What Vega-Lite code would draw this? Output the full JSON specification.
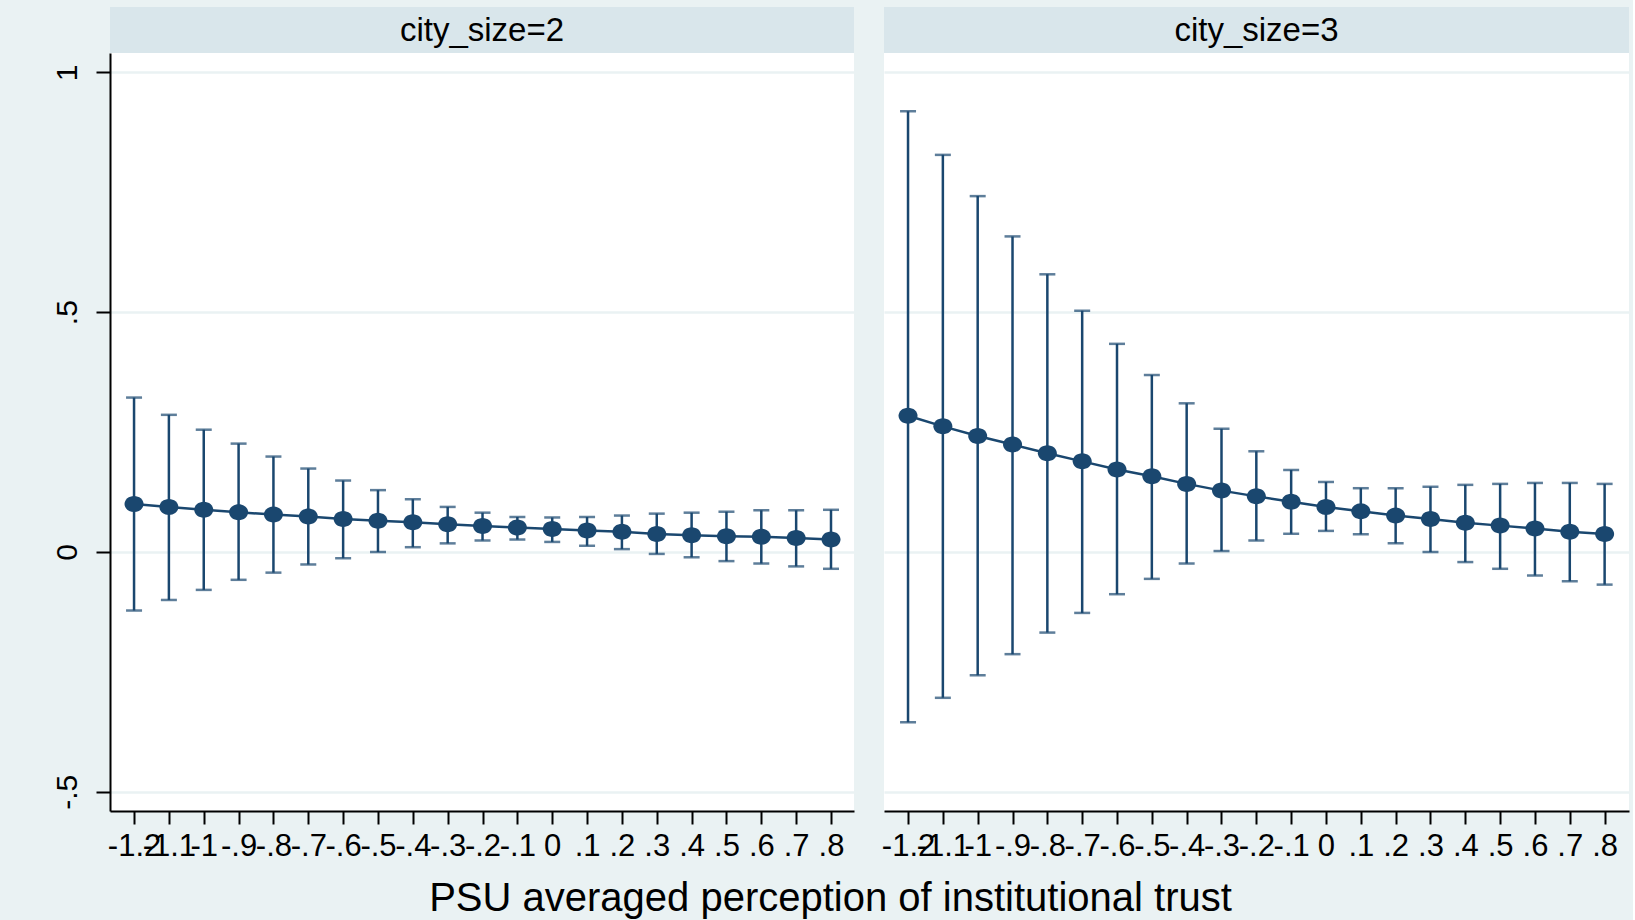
{
  "$schema": "https://vega.github.io/schema/vega-lite/v6.json",
  "background": "#eaf2f3",
  "padding": {"left": 52, "top": 7, "right": 4, "bottom": 2},
  "config": {
    "font": "Liberation Sans",
    "view": {"stroke": null},
    "axis": {"labelColor": "black", "labelFont": "Liberation Sans"}
  },
  "datasets": {
    "margins": [
      {"city_size": 2, "x": -1.2, "margin": 0.100, "lo": -0.122, "hi": 0.322},
      {"city_size": 2, "x": -1.1, "margin": 0.094, "lo": -0.100, "hi": 0.286},
      {"city_size": 2, "x": -1.0, "margin": 0.088, "lo": -0.079, "hi": 0.255},
      {"city_size": 2, "x": -0.9, "margin": 0.083, "lo": -0.058, "hi": 0.226},
      {"city_size": 2, "x": -0.8, "margin": 0.078, "lo": -0.043, "hi": 0.199},
      {"city_size": 2, "x": -0.7, "margin": 0.074, "lo": -0.026, "hi": 0.174},
      {"city_size": 2, "x": -0.6, "margin": 0.069, "lo": -0.013, "hi": 0.149},
      {"city_size": 2, "x": -0.5, "margin": 0.065, "lo": 0.000, "hi": 0.129},
      {"city_size": 2, "x": -0.4, "margin": 0.062, "lo": 0.010, "hi": 0.110},
      {"city_size": 2, "x": -0.3, "margin": 0.058, "lo": 0.018, "hi": 0.094},
      {"city_size": 2, "x": -0.2, "margin": 0.054, "lo": 0.024, "hi": 0.082},
      {"city_size": 2, "x": -0.1, "margin": 0.051, "lo": 0.026, "hi": 0.073},
      {"city_size": 2, "x": 0.0, "margin": 0.048, "lo": 0.021, "hi": 0.072},
      {"city_size": 2, "x": 0.1, "margin": 0.045, "lo": 0.013, "hi": 0.073},
      {"city_size": 2, "x": 0.2, "margin": 0.042, "lo": 0.006, "hi": 0.076},
      {"city_size": 2, "x": 0.3, "margin": 0.0375, "lo": -0.004, "hi": 0.080},
      {"city_size": 2, "x": 0.4, "margin": 0.035, "lo": -0.011, "hi": 0.082},
      {"city_size": 2, "x": 0.5, "margin": 0.033, "lo": -0.019, "hi": 0.084},
      {"city_size": 2, "x": 0.6, "margin": 0.032, "lo": -0.024, "hi": 0.087},
      {"city_size": 2, "x": 0.7, "margin": 0.029, "lo": -0.030, "hi": 0.087},
      {"city_size": 2, "x": 0.8, "margin": 0.026, "lo": -0.035, "hi": 0.088},
      {"city_size": 3, "x": -1.2, "margin": 0.284, "lo": -0.355, "hi": 0.919},
      {"city_size": 3, "x": -1.1, "margin": 0.262, "lo": -0.304, "hi": 0.828},
      {"city_size": 3, "x": -1.0, "margin": 0.242, "lo": -0.257, "hi": 0.742},
      {"city_size": 3, "x": -0.9, "margin": 0.224, "lo": -0.213, "hi": 0.658},
      {"city_size": 3, "x": -0.8, "margin": 0.206, "lo": -0.168, "hi": 0.579},
      {"city_size": 3, "x": -0.7, "margin": 0.189, "lo": -0.127, "hi": 0.503},
      {"city_size": 3, "x": -0.6, "margin": 0.172, "lo": -0.088, "hi": 0.434},
      {"city_size": 3, "x": -0.5, "margin": 0.158, "lo": -0.056, "hi": 0.369},
      {"city_size": 3, "x": -0.4, "margin": 0.142, "lo": -0.024, "hi": 0.310},
      {"city_size": 3, "x": -0.3, "margin": 0.128, "lo": 0.002, "hi": 0.257},
      {"city_size": 3, "x": -0.2, "margin": 0.116, "lo": 0.024, "hi": 0.210},
      {"city_size": 3, "x": -0.1, "margin": 0.105, "lo": 0.038, "hi": 0.171},
      {"city_size": 3, "x": 0.0, "margin": 0.094, "lo": 0.044, "hi": 0.146},
      {"city_size": 3, "x": 0.1, "margin": 0.085, "lo": 0.037, "hi": 0.133},
      {"city_size": 3, "x": 0.2, "margin": 0.076, "lo": 0.018, "hi": 0.133},
      {"city_size": 3, "x": 0.3, "margin": 0.069, "lo": 0.000, "hi": 0.136},
      {"city_size": 3, "x": 0.4, "margin": 0.061, "lo": -0.021, "hi": 0.140},
      {"city_size": 3, "x": 0.5, "margin": 0.055, "lo": -0.035, "hi": 0.142},
      {"city_size": 3, "x": 0.6, "margin": 0.049, "lo": -0.049, "hi": 0.144},
      {"city_size": 3, "x": 0.7, "margin": 0.042, "lo": -0.061, "hi": 0.144},
      {"city_size": 3, "x": 0.8, "margin": 0.0375, "lo": -0.068, "hi": 0.142}
    ]
  },
  "title": {
    "text": "PSU averaged perception of institutional trust",
    "orient": "bottom",
    "anchor": "middle",
    "font": "Liberation Sans",
    "fontSize": 40,
    "fontWeight": "normal",
    "color": "black",
    "offset": 18,
    "dx": -10
  },
  "spacing": 27,
  "hconcat": [
    {
      "spacing": 0,
      "vconcat": [
        {
          "width": 744,
          "height": 46,
          "view": {"fill": "#d9e6eb", "stroke": null},
          "data": {"values": [{"label": "city_size=2"}]},
          "mark": {"type": "text", "fontSize": 33, "font": "Liberation Sans", "color": "black", "baseline": "middle", "dy": 1},
          "encoding": {"text": {"field": "label"}}
        },
        {
          "width": 744,
          "height": 758,
          "view": {"fill": "white", "stroke": null},
          "data": {"name": "margins"},
          "transform": [{"filter": "datum.city_size == 2"}],
          "encoding": {
            "x": {
              "field": "x", "type": "quantitative",
              "scale": {"domain": [-1.269, 0.866], "nice": false, "zero": false},
              "axis": {
                "title": null,
                "values": [-1.2, -1.1, -1.0, -0.9, -0.8, -0.7, -0.6, -0.5, -0.4, -0.3, -0.2, -0.1, 0, 0.1, 0.2, 0.3, 0.4, 0.5, 0.6, 0.7, 0.8],
                "labelExpr": "(datum.value < 0 ? '-' : '') + replace(format(abs(datum.value), '.1~f'), '0.', '.')",
                "grid": false, "domainColor": "black", "domainWidth": 2, "tickColor": "black", "tickWidth": 2, "tickSize": 13,
                "labelFontSize": 31, "labelPadding": 7, "labelOverlap": false, "labelFlush": false, "labelBound": false
              }
            }
          },
          "layer": [
            {
              "mark": {"type": "rule", "color": "#1a476f", "strokeWidth": 2.5},
              "encoding": {
                "y": {
                  "field": "lo", "type": "quantitative",
                  "scale": {"domain": [-0.54, 1.0404], "nice": false, "zero": false},
                  "axis": {
                    "title": null, "values": [-0.5, 0, 0.5, 1],
                    "labelExpr": "(datum.value < 0 ? '-' : '') + replace(format(abs(datum.value), '.1~f'), '0.', '.')",
                    "labelAngle": -90, "labelAlign": "center", "labelBaseline": "bottom",
                    "grid": true, "gridColor": "#eaf2f3", "gridWidth": 2.5,
                    "domainColor": "black", "domainWidth": 2, "tickColor": "black", "tickWidth": 2, "tickSize": 14,
                    "labelFontSize": 30, "labelPadding": 14
                  }
                },
                "y2": {"field": "hi"}
              }
            },
            {
              "mark": {"type": "tick", "orient": "horizontal", "color": "#1a476f", "size": 16, "thickness": 2.5},
              "encoding": {"y": {"field": "hi", "type": "quantitative"}}
            },
            {
              "mark": {"type": "tick", "orient": "horizontal", "color": "#1a476f", "size": 16, "thickness": 2.5},
              "encoding": {"y": {"field": "lo", "type": "quantitative"}}
            },
            {
              "mark": {"type": "line", "color": "#1a476f", "strokeWidth": 2.5},
              "encoding": {"y": {"field": "margin", "type": "quantitative"}}
            },
            {
              "mark": {"type": "point", "filled": true, "opacity": 1, "color": "#1a476f", "size": 256, "shape": "M -1.19 0 A 1.19 1 0 1 0 1.19 0 A 1.19 1 0 1 0 -1.19 0 Z"},
              "encoding": {"y": {"field": "margin", "type": "quantitative"}}
            }
          ]
        }
      ]
    },
    {
      "spacing": 0,
      "vconcat": [
        {
          "width": 745,
          "height": 46,
          "view": {"fill": "#d9e6eb", "stroke": null},
          "data": {"values": [{"label": "city_size=3"}]},
          "mark": {"type": "text", "fontSize": 33, "font": "Liberation Sans", "color": "black", "baseline": "middle", "dy": 1},
          "encoding": {"text": {"field": "label"}}
        },
        {
          "width": 745,
          "height": 758,
          "view": {"fill": "white", "stroke": null},
          "data": {"name": "margins"},
          "transform": [{"filter": "datum.city_size == 3"}],
          "encoding": {
            "x": {
              "field": "x", "type": "quantitative",
              "scale": {"domain": [-1.269, 0.87], "nice": false, "zero": false},
              "axis": {
                "title": null,
                "values": [-1.2, -1.1, -1.0, -0.9, -0.8, -0.7, -0.6, -0.5, -0.4, -0.3, -0.2, -0.1, 0, 0.1, 0.2, 0.3, 0.4, 0.5, 0.6, 0.7, 0.8],
                "labelExpr": "(datum.value < 0 ? '-' : '') + replace(format(abs(datum.value), '.1~f'), '0.', '.')",
                "grid": false, "domainColor": "black", "domainWidth": 2, "tickColor": "black", "tickWidth": 2, "tickSize": 13,
                "labelFontSize": 31, "labelPadding": 7, "labelOverlap": false, "labelFlush": false, "labelBound": false
              }
            }
          },
          "layer": [
            {
              "mark": {"type": "rule", "color": "#1a476f", "strokeWidth": 2.5},
              "encoding": {
                "y": {
                  "field": "lo", "type": "quantitative",
                  "scale": {"domain": [-0.54, 1.0404], "nice": false, "zero": false},
                  "axis": {
                    "title": null, "values": [-0.5, 0, 0.5, 1],
                    "labels": false, "ticks": false, "domain": false,
                    "grid": true, "gridColor": "#eaf2f3", "gridWidth": 2.5
                  }
                },
                "y2": {"field": "hi"}
              }
            },
            {
              "mark": {"type": "tick", "orient": "horizontal", "color": "#1a476f", "size": 16, "thickness": 2.5},
              "encoding": {"y": {"field": "hi", "type": "quantitative"}}
            },
            {
              "mark": {"type": "tick", "orient": "horizontal", "color": "#1a476f", "size": 16, "thickness": 2.5},
              "encoding": {"y": {"field": "lo", "type": "quantitative"}}
            },
            {
              "mark": {"type": "line", "color": "#1a476f", "strokeWidth": 2.5},
              "encoding": {"y": {"field": "margin", "type": "quantitative"}}
            },
            {
              "mark": {"type": "point", "filled": true, "opacity": 1, "color": "#1a476f", "size": 256, "shape": "M -1.19 0 A 1.19 1 0 1 0 1.19 0 A 1.19 1 0 1 0 -1.19 0 Z"},
              "encoding": {"y": {"field": "margin", "type": "quantitative"}}
            }
          ]
        }
      ]
    }
  ]
}
